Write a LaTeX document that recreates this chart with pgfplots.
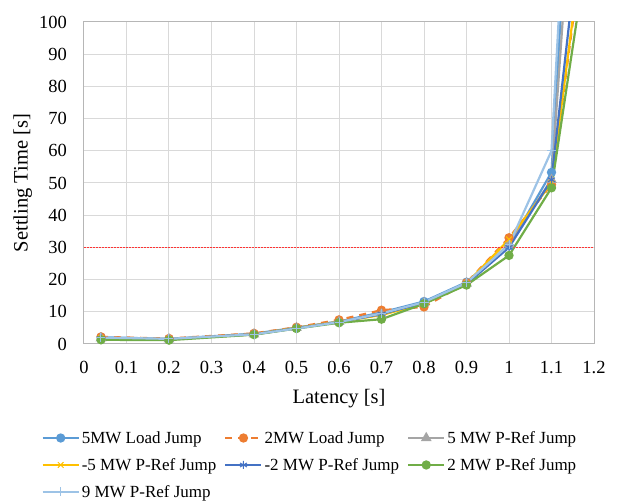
\documentclass[border=0pt]{standalone}
\usepackage{fontspec}
\setmainfont{Liberation Serif}
\usepackage{pgfplots}
\usepackage{pgfplotstable}
\pgfplotsset{compat=1.18}

\definecolor{sblue}{HTML}{5B9BD5}
\definecolor{sorange}{HTML}{ED7D31}
\definecolor{sgray}{HTML}{A5A5A5}
\definecolor{sgold}{HTML}{FFC000}
\definecolor{sdblue}{HTML}{4472C4}
\definecolor{sgreen}{HTML}{70AD47}
\definecolor{slblue}{HTML}{9DC3E6}
\definecolor{gridc}{HTML}{D9D9D9}
\definecolor{limitred}{RGB}{255,50,50}

% settling time [s] against latency [s]
\pgfplotstableread{
x    l5    l2    p5    m5    m2    p2    p9
0.04 2.1   2.2   1.8   1.8   1.8   1.3   2.0
0.2  1.6   1.7   1.5   1.5   1.5   1.2   1.6
0.4  3.2   3.3   3.0   3.0   3.0   2.9   3.0
0.5  5.1   5.2   5.0   5.0   4.9   4.8   4.8
0.6  7.0   7.5   6.9   6.9   6.8   6.6   6.8
0.7  9.8   10.5  9.2   9.0   9.3   7.7   9.5
0.8  13.2  11.5  12.8  12.5  12.8  12.5  13.0
0.9  19.2  19.0  18.8  18.8  18.6  18.3  19.0
1.0  30.5  33.0  31.0  32.5  30.0  27.5  30.8
1.1  53.3  49.5  51.0  50.0  51.0  48.5  60.0
1.2  277   150   239   152   168   136   302
}\settling

\begin{document}
\begin{tikzpicture}
\begin{axis}[
    name=ax,
    scale only axis,
    width=510pt,
    height=322pt,
    font=\fontsize{18.5}{21}\selectfont,
    xmin=0, xmax=1.2,
    ymin=0, ymax=100,
    xtick={0,0.1,...,1.2},
    xticklabels={0,0.1,0.2,0.3,0.4,0.5,0.6,0.7,0.8,0.9,1,1.1,1.2},
    ytick={0,10,...,100},
    major tick length=0pt,
    /pgf/number format/assume math mode=true,
    xticklabel style={inner sep=0pt, anchor=north, yshift=-17pt},
    yticklabel style={inner sep=0pt, anchor=east, xshift=-17pt},
    grid=major,
    major grid style={gridc, line width=1pt},
    axis line style={gridc!80!black!90, line width=1pt},
    xlabel={Latency [s]},
    ylabel={Settling Time [s]},
    label style={font=\fontsize{20.5}{24}\selectfont},
    xlabel style={at={(axis description cs:0.5,-0.170)}, anchor=center},
    ylabel style={at={(axis description cs:-0.12,0.5)}, anchor=center},
    legend columns=3,
    legend cell align=left,
    legend style={at={(axis description cs:0.443,-0.258)}, anchor=north,
        draw=none, fill=none, font=\fontsize{17}{20}\selectfont,
        /tikz/every even column/.append style={column sep=6pt},
        row sep=9.5pt},
    legend image code/.code={\draw[mark repeat=2,mark phase=2]
        plot coordinates {(0pt,0pt) (18pt,0pt) (36pt,0pt)};},
]
\addplot[sblue, line width=2.2pt, mark=*, mark size=3.5pt] table[x=x,y=l5] {\settling};
\addplot[sorange, line width=2.2pt, dash pattern=on 7pt off 6pt, mark=*, mark size=3.5pt, mark options={solid}] table[x=x,y=l2] {\settling};
\addplot[sgray, line width=2.2pt, mark=triangle*, mark size=4pt] table[x=x,y=p5] {\settling};
\addplot[sgold, line width=2.2pt, mark=x, mark size=4pt, mark options={line width=1pt}] table[x=x,y=m5] {\settling};
\addplot[sdblue, line width=2.2pt, mark=asterisk, mark size=4pt, mark options={line width=1pt}] table[x=x,y=m2] {\settling};
\addplot[sgreen, line width=2.2pt, mark=*, mark size=3.5pt] table[x=x,y=p2] {\settling};
\addplot[slblue, line width=2.2pt, mark=+, mark size=4.5pt, mark options={line width=1pt}] table[x=x,y=p9] {\settling};
% 30 s settling limit
\addplot[draw=limitred, line width=1.5pt, dash pattern=on 2pt off 1pt, mark=none, forget plot] coordinates {(0,30) (1.2,30)};
\legend{5MW Load Jump, 2MW Load Jump, 5 MW P-Ref Jump, -5 MW P-Ref Jump, -2 MW P-Ref Jump, 2 MW P-Ref Jump, 9 MW P-Ref Jump}
\end{axis}
\path ([xshift=-84pt,yshift=-154pt]ax.south west) rectangle ([xshift=27pt,yshift=22pt]ax.north east);
\end{tikzpicture}
\end{document}
